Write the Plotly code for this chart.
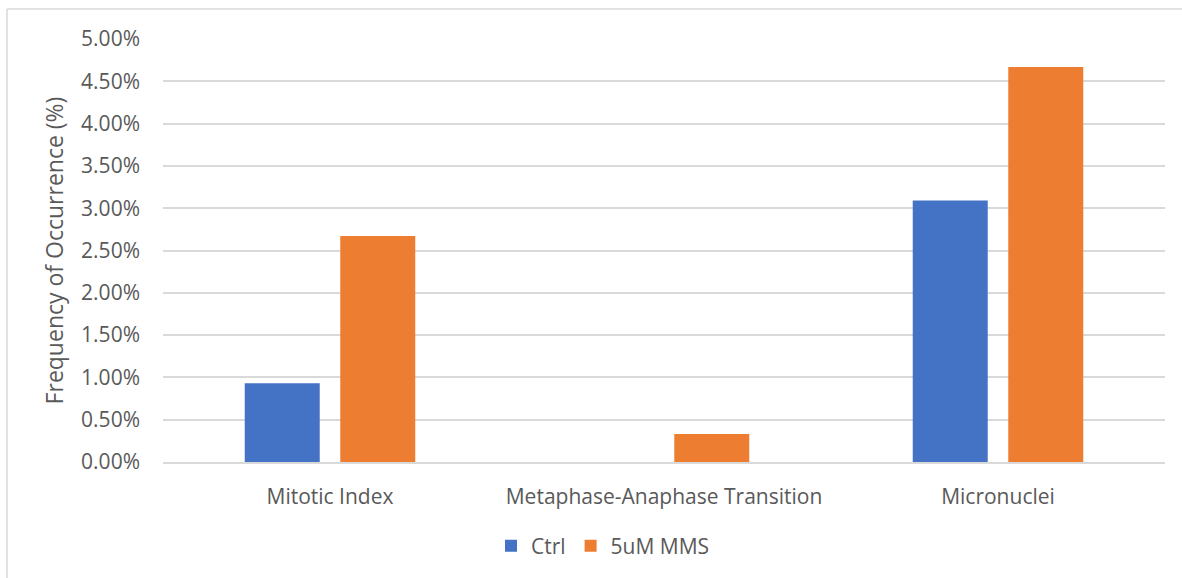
import plotly.graph_objects as go

# Frequency of occurrence (%) for each cell-cycle event
categories = ["Mitotic Index", "Metaphase-Anaphase Transition", "Micronuclei"]
ctrl_pct = [0.93, 0.00, 3.09]
mms_pct = [2.67, 0.33, 4.67]
series_names = ["Ctrl", "5uM MMS"]
y_tick_vals = [0.0, 0.5, 1.0, 1.5, 2.0, 2.5, 3.0, 3.5, 4.0, 4.5, 5.0]

FONT = "'Open Sans', Lato, sans-serif"
TEXT = "#595959"
GRID = "#d9d9d9"

W, H = 1182, 578
ML, MR, MT, MB = 163, 17, 39, 116
PW, PH = W - ML - MR, H - MT - MB

fig = go.Figure()
fig.add_trace(go.Bar(x=categories, y=[v / 100 for v in ctrl_pct], name=series_names[0],
                     marker=dict(color="#4472c4", line=dict(width=0))))
fig.add_trace(go.Bar(x=categories, y=[v / 100 for v in mms_pct], name=series_names[1],
                     marker=dict(color="#ed7d31", line=dict(width=0))))

# outer chart-area frame (top and left edges)
def px_x(px):
    return (px - ML) / PW

def px_y(py):
    return (H - MB - py) / PH

frame = dict(type="line", xref="paper", yref="paper", line=dict(color=GRID, width=1.5))
fig.add_shape(**frame, x0=px_x(7), x1=px_x(W + 5), y0=px_y(9), y1=px_y(9))
fig.add_shape(**frame, x0=px_x(7), x1=px_x(7), y0=px_y(9), y1=px_y(H + 5))

fig.update_layout(
    width=W, height=H,
    margin=dict(l=ML, r=MR, t=MT, b=MB, pad=0),
    paper_bgcolor="white", plot_bgcolor="white",
    font=dict(family=FONT, color=TEXT, size=21),
    barmode="group", bargap=0.428, bargroupgap=0.215,
    showlegend=True,
    legend=dict(orientation="h", x=px_x(603), xanchor="center", y=px_y(546), yanchor="middle",
                font=dict(size=21, color=TEXT), itemwidth=30, traceorder="normal",
                bgcolor="rgba(0,0,0,0)"),
    xaxis=dict(showgrid=False, showline=True, linecolor=GRID, linewidth=1.5,
               ticks="", tickfont=dict(size=21, color=TEXT), ticklabelstandoff=15,
               fixedrange=True),
    yaxis=dict(range=[0, 0.05], tickvals=[v / 100 for v in y_tick_vals], tickformat=".2%",
               showgrid=True, gridcolor=GRID, gridwidth=1.5, zeroline=False,
               showline=False, ticks="", tickfont=dict(size=21, color=TEXT),
               ticklabelstandoff=22,
               title=dict(text="Frequency of Occurrence (%)", font=dict(size=23, color=TEXT),
                          standoff=11)),
)

fig.write_html("out.html")
